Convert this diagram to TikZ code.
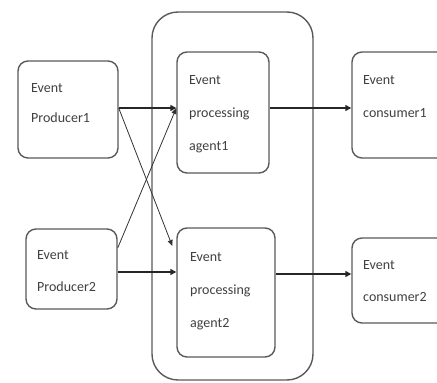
\documentclass[tikz,border=0pt]{standalone}
\usepackage{fontspec}
\setmainfont{Carlito}
\usetikzlibrary{arrows.meta,calc}
\definecolor{boxline}{HTML}{5A5A5A}
\definecolor{txt}{HTML}{404040}
\begin{document}
\begin{tikzpicture}[x=1pt,y=-1pt,
  box/.style={draw=boxline,line width=1.4pt,rounded corners=10pt,inner sep=0pt},
  lbl/.style={anchor=north west,align=left,text=txt,inner sep=0pt,
    font=\fontsize{14}{33}\selectfont},
  arr/.style={draw=black!85,line width=1.4pt,-{Triangle[length=6pt,width=6pt]}},
  thin/.style={draw=black!80,line width=0.8pt,-{Triangle[length=6pt,width=5pt]}}]
\useasboundingbox (0,0) rectangle (437,383);
\clip (0,0) rectangle (437,383);
\fill[white] (0,0) rectangle (437,383);
% outer container
\node[box,rounded corners=26pt,minimum width=161pt,minimum height=368pt] (outer) at (232.5,196) {};
% boxes
\node[box,minimum width=100pt,minimum height=97pt] (p1) at (68,109.5) {};
\node[box,minimum width=91pt,minimum height=80pt] (p2) at (71.5,269) {};
\node[box,minimum width=92pt,minimum height=121pt] (a1) at (223,112.5) {};
\node[box,minimum width=98pt,minimum height=129pt] (a2) at (226,292.5) {};
\node[box,minimum width=98pt,minimum height=106pt] (c1) at (401,105) {};
\node[box,minimum width=98pt,minimum height=85pt] (c2) at (401,280.5) {};
% labels
\node[lbl] (p1t) at (31,83) {Event\\[-3pt]Producer1};
\node[lbl] (p2t) at (37,250) {Event\\[-1pt]Producer2};
\node[lbl] (a1t) at (189,75) {Event\\processing\\agent1};
\node[lbl] (a2t) at (190,252) {Event\\processing\\agent2};
\node[lbl] (c1t) at (363,75) {Event\\consumer1};
\node[lbl] (c2t) at (363,260) {Event\\[-1pt]consumer2};
% connector end points
\coordinate (p1o) at (p1.east |- 0,108);
\coordinate (a1i) at (a1.west |- 0,108);
\coordinate (a2x) at ($(a2.west |- 0,246)+(-4,0)$);
\coordinate (p2u) at (p2.east |- 0,248);
\coordinate (p2o) at (p2.east |- 0,272);
\coordinate (a2i) at (a2.west |- 0,272);
\coordinate (a1o) at (a1.east |- 0,108);
\coordinate (c1i) at (c1.west |- 0,108);
\coordinate (a2o) at (a2.east |- 0,274);
\coordinate (c2i) at (c2.west |- 0,274);
% connectors
\draw[thin] (p1o) -- (a2x);
\draw[thin] (p2u) -- (a1i);
\draw[arr] (p1o) -- (a1i);
\draw[arr] (p2o) -- (a2i);
\draw[arr] (a1o) -- (c1i);
\draw[arr] (a2o) -- (c2i);
\end{tikzpicture}
\end{document}
